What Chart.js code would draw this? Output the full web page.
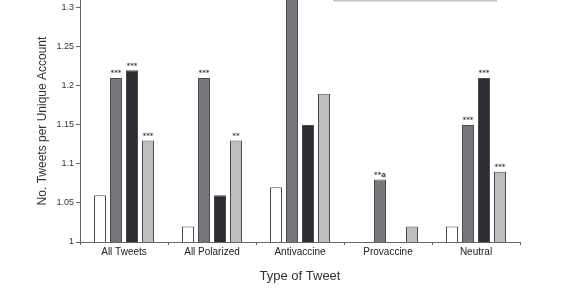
<!DOCTYPE html>
<html>
<head>
<meta charset="utf-8">
<script src="https://cdn.jsdelivr.net/npm/chart.js@4"></script>
<style>
  html, body { margin: 0; padding: 0; background: #fff; }
  #wrap { width: 580px; height: 300px; }
</style>
</head>
<body>
<div id="wrap"><canvas id="myChart" width="580" height="300"></canvas></div>
<script>
const categories = ['All Tweets', 'All Polarized', 'Antivaccine', 'Provaccine', 'Neutral'];

// four account groups
const groupA = [1.06, 1.02, 1.07, null, 1.02];
const groupB = [1.21, 1.21, 1.33, 1.08, 1.15];
const groupC = [1.22, 1.06, 1.15, null, 1.21];
const groupD = [1.13, 1.13, 1.19, 1.02, 1.09];

// significance marks above the bars
const marksA = ['', '', '', '', ''];
const marksB = ['***', '***', '', '**a', '***'];
const marksC = ['***', '', '', '', '***'];
const marksD = ['***', '**', '', '', '***'];

const yTicks = [1, 1.05, 1.1, 1.15, 1.2, 1.25, 1.3];

const markPlugin = {
  id: 'marks',
  afterDatasetsDraw(chart) {
    const ctx = chart.ctx;
    const allMarks = [marksA, marksB, marksC, marksD];
    ctx.save();
    ctx.font = 'bold 7px "DejaVu Sans"';
    ctx.fillStyle = '#444';
    ctx.textAlign = 'center';
    ctx.textBaseline = 'bottom';
    chart.data.datasets.forEach((ds, i) => {
      chart.getDatasetMeta(i).data.forEach((bar, j) => {
        const m = allMarks[i][j];
        if (m && ds.data[j] != null) ctx.fillText(m, bar.x, bar.y - 1);
      });
    });
    // bottom edge of the cut-off legend box
    ctx.strokeStyle = '#c4c4c4';
    ctx.lineWidth = 2;
    ctx.beginPath();
    ctx.moveTo(333, 0.5);
    ctx.lineTo(497, 0.5);
    ctx.stroke();
    ctx.restore();
  }
};

const barStyle = (fill) => ({
  backgroundColor: fill,
  borderColor: '#4a4a4e',
  borderWidth: 1,
  categoryPercentage: 0.727,
  barPercentage: 0.75
});

new Chart(document.getElementById('myChart'), {
  type: 'bar',
  data: {
    labels: categories,
    datasets: [
      Object.assign({ label: 'A', data: groupA }, barStyle('#ffffff')),
      Object.assign({ label: 'B', data: groupB }, barStyle('#78787c')),
      Object.assign({ label: 'C', data: groupC }, barStyle('#2b2d33')),
      Object.assign({ label: 'D', data: groupD }, barStyle('#bebec0'))
    ]
  },
  options: {
    responsive: false,
    animation: false,
    layout: { padding: { left: 35, right: 60, top: 0, bottom: 16 } },
    plugins: { legend: { display: false }, tooltip: { enabled: false } },
    scales: {
      x: {
        border: { color: '#666', width: 1 },
        grid: { display: true, drawOnChartArea: false, offset: true, tickLength: 3, color: '#666' },
        ticks: { color: '#222', font: { family: 'Liberation Sans', size: 10 }, padding: 1, maxRotation: 0 },
        title: { display: true, text: 'Type of Tweet', color: '#333', font: { family: 'Liberation Sans', size: 13 }, padding: { top: 0, bottom: 0 } },
        afterFit(s) { s.height = 42; s.paddingLeft = 0; s.paddingRight = 0; }
      },
      y: {
        min: 1,
        max: 1.31,
        border: { color: '#666', width: 1 },
        grid: { display: true, drawOnChartArea: false, tickLength: 4, color: '#666' },
        afterBuildTicks(s) { s.ticks = yTicks.map(v => ({ value: v })); },
        ticks: {
          color: '#333',
          font: { family: 'Liberation Sans', size: 9 },
          padding: 2,
          callback: v => String(+Number(v).toFixed(2))
        },
        title: { display: true, text: 'No. Tweets per Unique Account', color: '#333', font: { family: 'Liberation Sans', size: 12 }, padding: { top: 0, bottom: 0 } },
        afterFit(s) { s.width = 45; s.paddingTop = 0; s.paddingBottom = 0; }
      }
    }
  },
  plugins: [markPlugin]
});
</script>
</body>
</html>
